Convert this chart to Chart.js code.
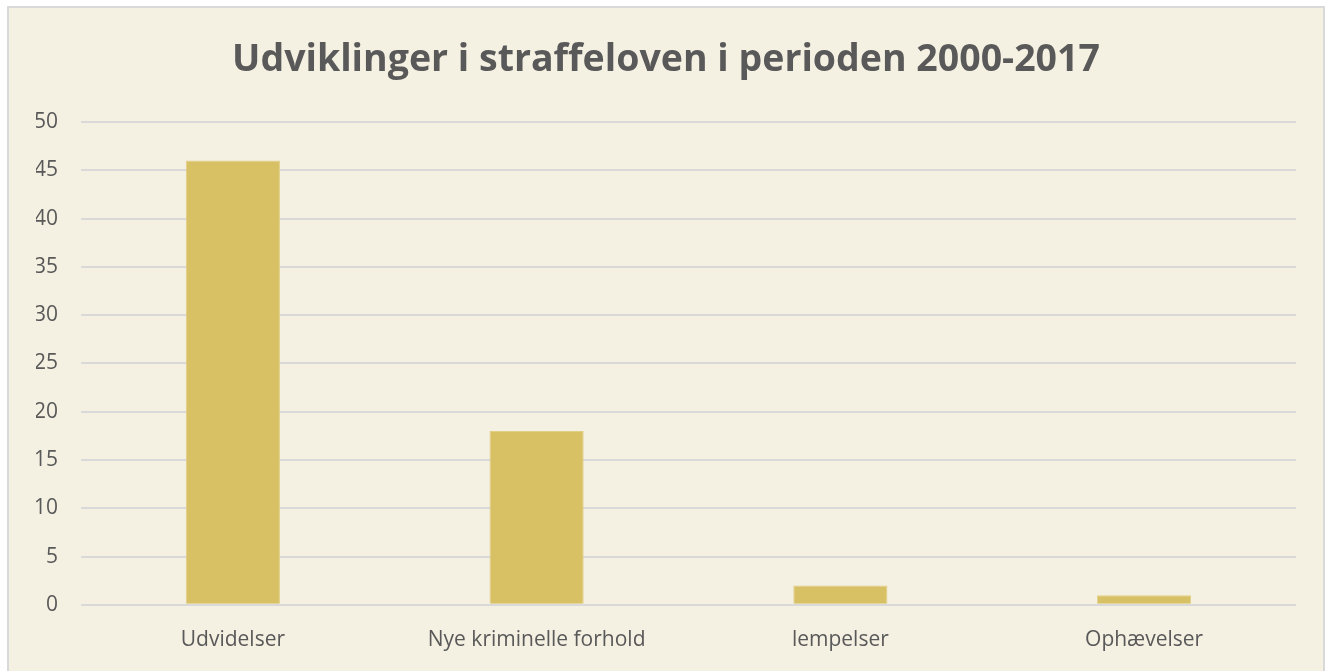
<!DOCTYPE html>
<html>
<head>
<meta charset="utf-8">
<script src="https://cdn.jsdelivr.net/npm/chart.js@4/dist/chart.umd.min.js"></script>
<style>
  html, body { margin: 0; padding: 0; background: #ffffff; }
  #box {
    position: absolute; left: 7px; top: 6px;
    width: 1318px; height: 670px;
    background: #f4f0e2;
    border: 2px solid #d9d9d9;
    box-sizing: border-box;
  }
  #c { display: block; }
</style>
</head>
<body>
<div id="box"><canvas id="c" width="1314" height="666"></canvas></div>
<script>
  // 数据
  var categories = ["Udvidelser", "Nye kriminelle forhold", "lempelser", "Ophævelser"];
  var values = [46, 18, 2, 1];
  var yTicks = [0, 5, 10, 15, 20, 25, 30, 35, 40, 45, 50];

  var TXT = "#595959";
  var GRID = "#d9d9d9";
  var FONT = "'Open Sans', 'DejaVu Sans', sans-serif";

  new Chart(document.getElementById("c").getContext("2d"), {
    type: "bar",
    data: {
      labels: categories,
      datasets: [{
        data: values,
        backgroundColor: "#d8c065",
        borderColor: "#e2cf86",
        borderWidth: 1,
        categoryPercentage: 1,
        barPercentage: 0.31
      }]
    },
    options: {
      responsive: false,
      animation: false,
      layout: { padding: { left: 27, right: 27, top: 8, bottom: 6 } },
      plugins: {
        legend: { display: false },
        tooltip: { enabled: false },
        title: {
          display: true,
          text: "Udviklinger i straffeloven i perioden 2000-2017",
          color: TXT,
          font: { family: FONT, size: 37.5, weight: "bold" },
          padding: { top: 22, bottom: 39 }
        }
      },
      scales: {
        x: {
          grid: { display: false },
          border: { display: false },
          ticks: {
            color: TXT,
            font: { family: FONT, size: 21 },
            padding: 15
          }
        },
        y: {
          min: 0,
          max: 50,
          afterBuildTicks: function (axis) {
            axis.ticks = yTicks.map(function (v) { return { value: v }; });
          },
          afterFit: function (axis) { axis.width = 45; },
          grid: { color: GRID, lineWidth: 2, drawTicks: false },
          border: { display: false },
          ticks: {
            color: TXT,
            font: { family: FONT, size: 21 },
            padding: 23
          }
        }
      }
    }
  });
</script>
</body>
</html>
